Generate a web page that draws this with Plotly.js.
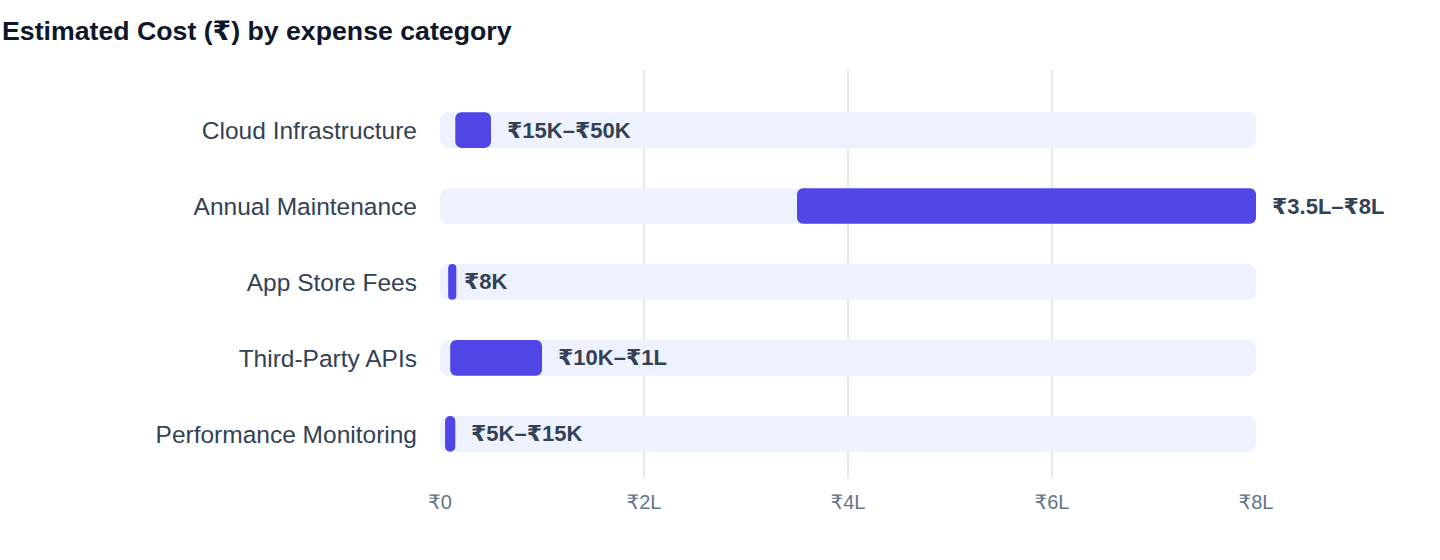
<!DOCTYPE html>
<html>
<head>
<meta charset="utf-8">
<script src="https://cdn.plot.ly/plotly-3.0.1.min.js"></script>
<style>html,body{margin:0;padding:0;background:#fff;}#chart{width:1440px;height:560px;}</style>
</head>
<body>
<div id="chart"></div>
<script>
const categories = ["Cloud Infrastructure", "Annual Maintenance", "App Store Fees", "Third-Party APIs", "Performance Monitoring"];
const lowValues = [15000, 350000, 8000, 10000, 5000];
const highValues = [50000, 800000, 8000, 100000, 15000];
const rangeLabels = ["₹15K–₹50K", "₹3.5L–₹8L", "₹8K", "₹10K–₹1L", "₹5K–₹15K"];
const trackMax = [800000, 800000, 800000, 800000, 800000];
const tickValues = [0, 200000, 400000, 600000, 800000];
const tickLabels = ["₹0", "₹2L", "₹4L", "₹6L", "₹8L"];

const FONT = "Liberation Sans, Arial, DejaVu Sans, sans-serif";
const minWidth = 8000;
const widths = lowValues.map((v, i) => Math.max(highValues[i] - v, minWidth));

const track = {
  type: "bar", orientation: "h", y: categories, x: trackMax, base: 0,
  width: 0.47, marker: {color: "#eef2ff", cornerradius: 8},
  hoverinfo: "skip", showlegend: false
};
const range = {
  type: "bar", orientation: "h", y: categories, x: widths, base: lowValues,
  width: 0.47, marker: {color: "#4f46e5", cornerradius: 6},
  showlegend: false, hoverinfo: "skip"
};

const annotations = categories.map((c, i) => ({
  x: highValues[i], y: c, xref: "x", yref: "y", text: "<b>" + rangeLabels[i] + "</b>",
  showarrow: false, xanchor: "left", yanchor: "middle", xshift: 14,
  font: {family: FONT, size: 22, color: "#334155"}
}));

const layout = {
  width: 1440, height: 560,
  margin: {l: 440, r: 184, t: 70, b: 82},
  paper_bgcolor: "#fff", plot_bgcolor: "#fff",
  barmode: "overlay",
  title: {text: "<b>Estimated Cost (₹) by expense category</b>", xref: "container", yref: "container",
    x: 0.0014, xanchor: "left", y: 1 - 31/560, yanchor: "middle",
    font: {family: FONT, size: 26.7, color: "#0f172a"}},
  xaxis: {range: [0, 800000], tickvals: tickValues, ticktext: tickLabels, showgrid: true,
    gridcolor: "#e2e8f0", gridwidth: 1.5, zeroline: false, showline: false, ticks: "",
    ticklabelstandoff: 10, tickfont: {family: FONT, size: 20, color: "#64748b"}, fixedrange: true},
  yaxis: {type: "category", categoryorder: "array", categoryarray: categories,
    range: [4.58, -0.79], showgrid: false, zeroline: false, showline: false, ticks: "",
    ticklabelstandoff: 22, tickfont: {family: FONT, size: 24.5, color: "#334155"}, fixedrange: true},
  annotations: annotations
};

Plotly.newPlot("chart", [track, range], layout, {displayModeBar: false, staticPlot: true});
</script>
</body>
</html>
